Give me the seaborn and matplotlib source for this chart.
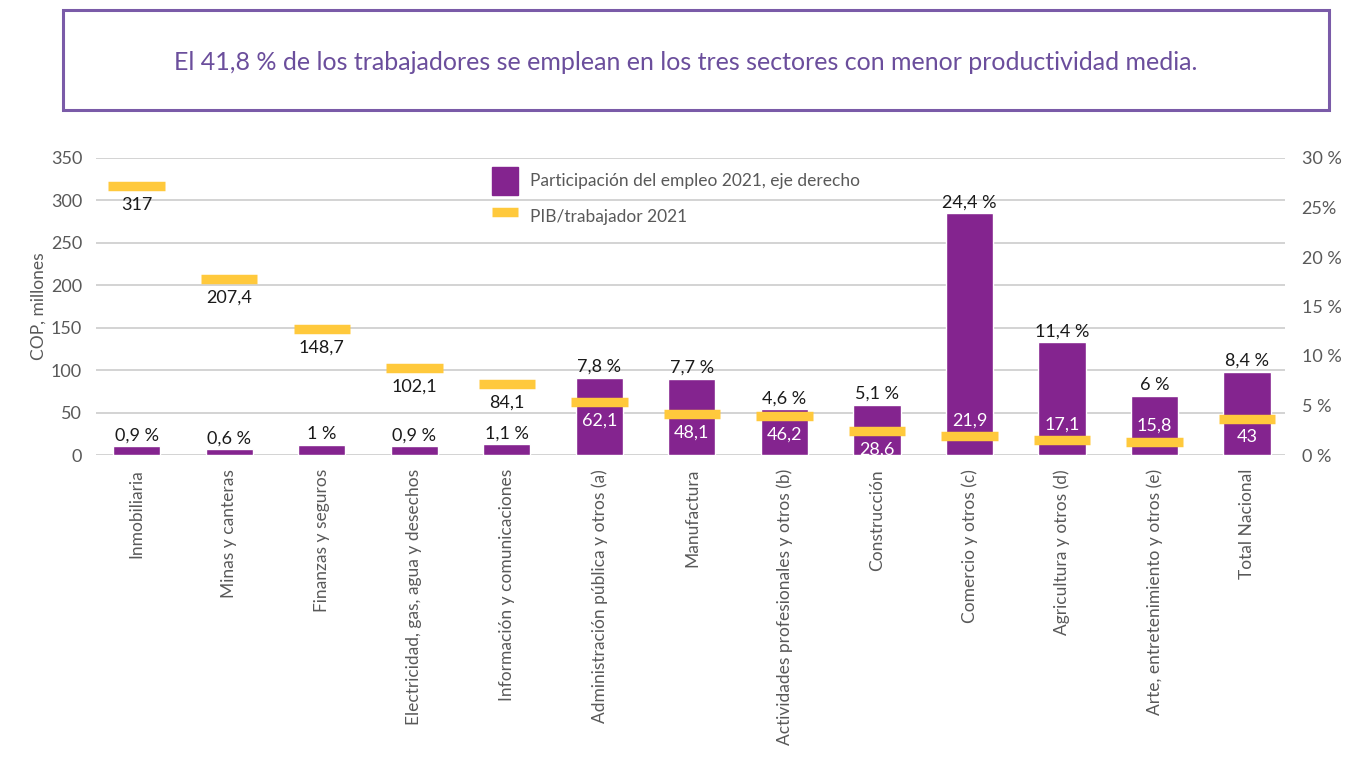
import matplotlib
matplotlib.use("Agg")
import matplotlib.pyplot as plt
import seaborn as sns
import pandas as pd
from matplotlib.patches import Rectangle, Patch
from matplotlib.lines import Line2D

sns.set_theme(style="white")
plt.rcParams['font.family'] = ['Lato', 'DejaVu Sans']

categories = ["Inmobiliaria", "Minas y canteras", "Finanzas y seguros",
              "Electricidad, gas, agua y desechos", "Información y comunicaciones",
              "Administración pública y otros (a)", "Manufactura",
              "Actividades profesionales y otros (b)", "Construcción",
              "Comercio y otros (c)", "Agricultura y otros (d)",
              "Arte, entretenimiento y otros (e)", "Total Nacional"]
empleo_pct = [0.9, 0.6, 1.0, 0.9, 1.1, 7.8, 7.7, 4.6, 5.1, 24.4, 11.4, 6.0, 8.4]
empleo_lbl = ["0,9 %", "0,6 %", "1 %", "0,9 %", "1,1 %", "7,8 %", "7,7 %",
              "4,6 %", "5,1 %", "24,4 %", "11,4 %", "6 %", "8,4 %"]
pib_trab = [317, 207.4, 148.7, 102.1, 84.1, 62.1, 48.1, 46.2, 28.6, 21.9, 17.1, 15.8, 43]
pib_lbl = ["317", "207,4", "148,7", "102,1", "84,1", "62,1", "48,1", "46,2",
           "28,6", "21,9", "17,1", "15,8", "43"]
left_ticks = [0, 50, 100, 150, 200, 250, 300, 350]
right_ticks = [0, 5, 10, 15, 20, 25, 30]
right_tick_lbl = ["0 %", "5 %", "10 %", "15 %", "20 %", "25%", "30 %"]

PURPLE = "#84248F"
YELLOW = "#FFC93C"
GRAY = "#595959"
TITLE_PURPLE = "#6B4E9C"

df = pd.DataFrame({"cat": categories, "emp": empleo_pct, "pib": pib_trab})

fig = plt.figure(figsize=(13.71, 7.57), dpi=100)

# title box
fig.patches.append(Rectangle((63/1371, 1-110/757), (1329-63)/1371, 100/757,
                             transform=fig.transFigure, fill=False,
                             edgecolor="#7A5BA8", linewidth=2.2))
fig.text(0.5, 1-63/757, "El 41,8 % de los trabajadores se emplean en los tres sectores con menor productividad media.",
         ha="center", va="center", fontsize=18, color=TITLE_PURPLE)

ax = fig.add_axes([96/1371, 1-455/757, (1285-96)/1371, (455-158)/757])
ax2 = ax.twinx()
ax3 = ax.twinx()

xlim = (-0.44, 12.41)

# left axis: grid
ax.set_ylim(0, 350)
ax.set_yticks(left_ticks)
ax.grid(axis="y", color="#D0D0D0", linewidth=1.3)
ax.set_axisbelow(True)
for s in ax.spines.values():
    s.set_visible(False)
ax.tick_params(axis="y", length=0, labelsize=13, labelcolor=GRAY, pad=10)
ax.set_ylabel("COP, millones", fontsize=12.5, color=GRAY, labelpad=3)

# right axis: bars
sns.barplot(data=df, x="cat", y="emp", ax=ax2, color=PURPLE, width=0.51,
            saturation=1, errorbar=None)
ax2.set_ylim(0, 30)
ax2.set_yticks(right_ticks)
ax2.set_yticklabels(right_tick_lbl)
ax2.set_ylabel("")
for s in ax2.spines.values():
    s.set_visible(False)
ax2.tick_params(axis="y", length=0, labelsize=13, labelcolor=GRAY, pad=12)
for i, (v, lbl) in enumerate(zip(empleo_pct, empleo_lbl)):
    ax2.annotate(lbl, (i, v), xytext=(0, 2), textcoords="offset points",
                 ha="center", va="bottom", fontsize=13, color="#1a1a1a")

# third layer: PIB markers
ax3.set_ylim(0, 350)
ax3.set_yticks([])
for s in ax3.spines.values():
    s.set_visible(False)
xs = list(range(len(categories)))
ax3.hlines(pib_trab, [x - 0.305 for x in xs], [x + 0.305 for x in xs],
           color=YELLOW, linewidth=6.8, capstyle="butt")
for i, (v, lbl, e) in enumerate(zip(pib_trab, pib_lbl, empleo_pct)):
    inside = e * 350 / 30 > v
    col = "white" if inside else "#1a1a1a"
    dy = 11.5 if v < 25 else -13.5
    ax3.annotate(lbl, (i, v), xytext=(0, dy), textcoords="offset points",
                 ha="center", va="center", fontsize=13, color=col)

for a in (ax, ax2, ax3):
    a.set_xlim(*xlim)

ax.set_xticks(xs)
ax.set_xticklabels(categories, rotation=90, fontsize=12.5, color=GRAY)
ax.tick_params(axis="x", length=0, pad=10)
ax2.set_xlabel("")
ax.set_xlabel("")
ax2.tick_params(axis="x", length=0, labelbottom=False)
ax3.tick_params(axis="x", length=0, labelbottom=False)

handles = [Patch(facecolor=PURPLE, edgecolor=PURPLE),
           Line2D([0], [0], color=YELLOW, linewidth=6.8, solid_capstyle="butt")]
labels = ["Participación del empleo 2021, eje derecho", "PIB/trabajador 2021"]
leg = ax3.legend(handles, labels, loc="upper left",
                 bbox_to_anchor=(476/1371, 1-151/757), bbox_transform=fig.transFigure,
                 frameon=False, fontsize=12.5, handlelength=1.5, handleheight=2.1,
                 labelspacing=0.45, handletextpad=0.7)
for t in leg.get_texts():
    t.set_color(GRAY)

fig.savefig("out.png", dpi=100)
